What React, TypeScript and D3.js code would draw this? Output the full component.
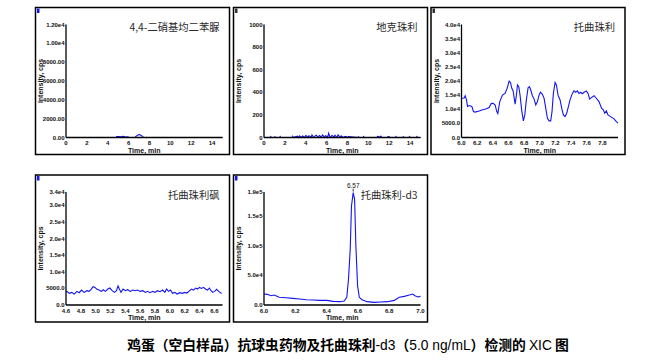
import React from "react";
import * as d3 from "d3";

// --- data ---

// 4,4-二硝基均二苯脲 (0-15 min)
const p1Time = [0, 4.8, 4.85, 5.1, 5.3, 5.5, 5.6, 5.7, 5.95, 6.0, 6.6, 6.7, 6.9, 7.0, 7.1, 7.2, 7.35, 7.4, 15];
const p1Int = [0, 0, 90, 110, 80, 120, 90, 60, 80, 0, 0, 120, 260, 320, 280, 200, 120, 0, 0];

// 地克珠利 (0-15 min), sparse noise
const p2Time = [0, 0.6, 0.65, 0.7, 1.0, 1.05, 1.1, 1.5, 1.55, 1.6, 2.7, 2.75, 2.8, 3.2, 3.3, 3.4, 3.5, 3.6, 3.7, 3.8, 3.9, 4.0, 4.1, 4.2, 4.3, 4.4, 4.5, 4.6, 4.7, 4.8, 4.9, 5.0, 5.1, 5.2, 5.3, 5.4, 5.5, 5.6, 5.7, 5.8, 5.9, 6.0, 6.1, 6.2, 6.3, 6.4, 6.5, 6.6, 6.7, 6.8, 6.9, 7.0, 7.1, 7.2, 7.3, 7.4, 7.5, 7.6, 7.8, 7.9, 8.0, 8.1, 9.0, 9.05, 9.1, 9.5, 9.55, 9.6, 10.8, 10.9, 11.0, 11.1, 11.2, 11.3, 11.8, 11.9, 12.0, 12.1, 12.6, 12.65, 12.7, 13.3, 13.35, 13.4, 13.9, 13.95, 14.0, 14.6, 14.65, 14.7, 15];
const p2Int = [0, 0, 8, 0, 0, 7, 0, 0, 8, 0, 0, 10, 0, 12, 0, 15, 8, 0, 14, 10, 0, 18, 12, 0, 16, 10, 0, 22, 8, 0, 15, 20, 10, 0, 18, 12, 0, 22, 14, 0, 16, 12, 0, 38, 10, 0, 18, 14, 0, 20, 10, 0, 24, 12, 0, 15, 8, 0, 10, 6, 0, 8, 0, 7, 0, 0, 8, 0, 0, 10, 8, 0, 12, 0, 0, 9, 7, 0, 0, 8, 0, 0, 7, 0, 0, 8, 0, 0, 8, 0, 0];

// 托曲珠利 (6.0-8.0 min)
const p3Time = [6.000, 6.034, 6.047, 6.064, 6.077, 6.098, 6.132, 6.153, 6.174, 6.226, 6.268, 6.311, 6.353, 6.379, 6.404, 6.430, 6.451, 6.464, 6.489, 6.523, 6.557, 6.583, 6.609, 6.626, 6.643, 6.660, 6.677, 6.685, 6.702, 6.715, 6.732, 6.749, 6.770, 6.791, 6.809, 6.830, 6.851, 6.868, 6.885, 6.906, 6.928, 6.949, 6.970, 6.991, 7.009, 7.034, 7.055, 7.077, 7.098, 7.119, 7.140, 7.157, 7.174, 7.196, 7.213, 7.234, 7.260, 7.281, 7.302, 7.323, 7.345, 7.366, 7.387, 7.417, 7.438, 7.460, 7.481, 7.502, 7.523, 7.545, 7.566, 7.596, 7.617, 7.638, 7.660, 7.694, 7.723, 7.757, 7.791, 7.813, 7.830, 7.851, 7.872, 7.906, 7.949, 7.979, 8.000];
const p3Int = [13900, 14000, 14800, 13300, 11000, 11300, 11000, 9200, 9000, 9400, 9800, 10100, 10600, 12000, 12100, 11500, 9200, 8500, 12700, 15000, 15600, 17400, 20000, 19500, 17400, 16500, 13300, 11800, 15000, 18600, 18000, 14800, 9400, 5900, 8000, 13600, 17600, 18000, 16800, 14800, 13600, 11500, 12700, 15000, 16000, 15300, 13900, 10300, 6800, 5900, 5900, 9200, 15600, 19500, 18600, 15000, 13300, 10300, 8000, 7400, 8600, 10900, 13300, 15600, 16500, 16000, 16500, 15600, 16000, 15500, 16000, 16500, 15600, 13600, 14100, 14800, 13900, 12700, 10300, 9800, 8600, 9400, 8000, 7400, 6600, 5600, 5100];

// 托曲珠利砜 (4.6-6.71 min)
const p4Time = [4.600, 4.613, 4.644, 4.676, 4.711, 4.747, 4.778, 4.809, 4.844, 4.880, 4.911, 4.942, 4.964, 4.991, 5.013, 5.044, 5.076, 5.102, 5.133, 5.164, 5.191, 5.222, 5.253, 5.280, 5.302, 5.320, 5.342, 5.369, 5.400, 5.431, 5.467, 5.502, 5.533, 5.564, 5.600, 5.636, 5.671, 5.698, 5.733, 5.769, 5.800, 5.831, 5.867, 5.902, 5.933, 5.956, 5.982, 6.009, 6.036, 6.067, 6.098, 6.133, 6.169, 6.200, 6.231, 6.267, 6.293, 6.320, 6.347, 6.373, 6.400, 6.427, 6.453, 6.480, 6.507, 6.533, 6.556, 6.578, 6.604, 6.631, 6.658, 6.684, 6.702];
const p4Int = [3900, 4100, 3500, 3800, 3300, 4100, 3700, 4500, 3800, 4300, 4100, 4800, 5500, 5300, 4800, 4500, 4100, 4600, 4100, 4800, 5100, 4300, 3800, 4300, 5700, 4800, 3800, 4800, 4300, 4600, 4100, 4500, 4300, 4500, 4100, 4300, 3800, 4100, 3700, 4100, 3800, 4300, 4000, 4500, 3800, 4800, 4100, 4500, 3500, 3800, 3300, 3700, 3500, 3800, 3600, 4300, 4800, 4500, 5100, 4800, 5300, 5000, 5300, 4800, 4500, 5100, 4300, 3800, 4100, 4700, 4100, 3700, 3500];

// 托曲珠利-d3 (6.0-7.0 min)
const p5Time = [6.000, 6.022, 6.043, 6.065, 6.097, 6.140, 6.184, 6.227, 6.270, 6.313, 6.356, 6.400, 6.443, 6.486, 6.512, 6.529, 6.540, 6.551, 6.559, 6.570, 6.579, 6.587, 6.598, 6.609, 6.626, 6.659, 6.702, 6.745, 6.788, 6.832, 6.864, 6.896, 6.929, 6.950, 6.965, 6.983, 7.000];
const p5Int = [18400, 17900, 15600, 16800, 12900, 12300, 11200, 10100, 8900, 8400, 7800, 7800, 6100, 5600, 6700, 12900, 43600, 93900, 166500, 188900, 177700, 99500, 32400, 12900, 8900, 5600, 4500, 5000, 5600, 7800, 12900, 14500, 16800, 18400, 15600, 13400, 14500];

// axis ticks
const xTicksWide = [0, 2, 4, 6, 8, 10, 12, 14];
const xLabelsWide = ["0", "2", "4", "6", "8", "10", "12", "14"];
const xTicks3 = [6.0, 6.2, 6.4, 6.6, 6.8, 7.0, 7.2, 7.4, 7.6, 7.8];
const xLabels3 = ["6.0", "6.2", "6.4", "6.6", "6.8", "7.0", "7.2", "7.4", "7.6", "7.8"];
const xTicks4 = [4.6, 4.8, 5.0, 5.2, 5.4, 5.6, 5.8, 6.0, 6.2, 6.4, 6.6];
const xLabels4 = ["4.6", "4.8", "5.0", "5.2", "5.4", "5.6", "5.8", "6.0", "6.2", "6.4", "6.6"];
const xTicks5 = [6.0, 6.2, 6.4, 6.6, 6.8, 7.0];
const xLabels5 = ["6.0", "6.2", "6.4", "6.6", "6.8", "7.0"];

const yTicks1 = [0, 2000, 4000, 6000, 8000, 10000, 12000];
const yLabels1 = ["0.00", "2000.00", "4000.00", "6000.00", "8000.00", "1.00e4", "1.20e4"];
const yTicks2 = [0, 200, 400, 600, 800, 1000];
const yLabels2 = ["0", "200", "400", "600", "800", "1000"];
const yTicks3 = [0, 5000, 10000, 15000, 20000, 25000, 30000, 35000, 40000];
const yLabels3 = ["0.0", "5000.0", "1.0e4", "1.5e4", "2.0e4", "2.5e4", "3.0e4", "3.5e4", "4.0e4"];
const yTicks4 = [0, 5000, 10000, 15000, 20000, 25000, 30000, 34000];
const yLabels4 = ["0.0", "5000.0", "1.0e4", "1.5e4", "2.0e4", "2.5e4", "3.0e4", "3.4e4"];
const yTicks5 = [0, 50000, 100000, 150000, 190000];
const yLabels5 = ["0.0", "5.0e4", "1.0e5", "1.5e5", "1.9e5"];

const titles = ["4,4-二硝基均二苯脲", "地克珠利", "托曲珠利", "托曲珠利砜", "托曲珠利-d3"];

const BLUE = "#1414f0";
const LATIN = "'Liberation Sans', Arial, sans-serif";
const CJK = "'Noto Sans CJK SC', 'Noto Sans', sans-serif";

const panels = [
  { fx: 35.5, fy: 7.5, t: p1Time, v: p1Int, xd: [0, 15], yd: [0, 12000], xt: xTicksWide, xl: xLabelsWide, yt: yTicks1, yl: yLabels1, title: titles[0], mark: BLUE },
  { fx: 233.5, fy: 7.5, t: p2Time, v: p2Int, xd: [0, 15], yd: [0, 1000], xt: xTicksWide, xl: xLabelsWide, yt: yTicks2, yl: yLabels2, title: titles[1], mark: "#333" },
  { fx: 431, fy: 7.5, t: p3Time, v: p3Int, xd: [6.0, 8.0], yd: [0, 40000], xt: xTicks3, xl: xLabels3, yt: yTicks3, yl: yLabels3, title: titles[2], mark: "#333" },
  { fx: 35.5, fy: 175, t: p4Time, v: p4Int, xd: [4.6, 6.71], yd: [0, 34000], xt: xTicks4, xl: xLabels4, yt: yTicks4, yl: yLabels4, title: titles[3], mark: BLUE },
  { fx: 233.5, fy: 175, t: p5Time, v: p5Int, xd: [6.0, 7.0], yd: [0, 190000], xt: xTicks5, xl: xLabels5, yt: yTicks5, yl: yLabels5, title: titles[4], mark: BLUE, peak: "6.57" },
];

const FW = 194;
const FH = 147;

function Panel({ p }: { p: any }) {
  const left = p.fx + 30.5;
  const right = p.fx + 187;
  const top = p.fy + 17;
  const bottom = p.fy + 130;
  const x = d3.scaleLinear().domain(p.xd).range([left, right]);
  const y = d3.scaleLinear().domain(p.yd).range([bottom, top]);
  const pts = p.t.map((t: number, i: number) => [t, p.v[i]] as [number, number]);
  const line = d3.line<[number, number]>().x(d => x(d[0])).y(d => y(d[1]));

  let peakEl = null;
  if (p.peak) {
    const iMax = d3.maxIndex(p.v);
    const px = x(p.t[iMax]);
    const py = y(p.v[iMax]);
    peakEl = (
      <g>
        <line x1={px} x2={px} y1={py - 1} y2={py - 4} stroke="#000" strokeWidth={0.8} />
        <text x={px} y={py - 5} fontSize={6.5} fontFamily={LATIN} textAnchor="middle" fill="#111">{p.peak}</text>
      </g>
    );
  }

  return (
    <g>
      <rect x={p.fx} y={p.fy} width={FW} height={FH} fill="#fff" stroke="#000" strokeWidth={1.5} />
      <rect x={p.fx + 1.5} y={p.fy + 1} width={2.5} height={4.5} fill={p.mark} />
      <path d={line(pts) || ""} fill="none" stroke={BLUE} strokeWidth={1.1} />
      <line x1={left} x2={left} y1={top} y2={bottom} stroke="#000" strokeWidth={1.3} />
      <line x1={left} x2={right} y1={bottom} y2={bottom} stroke="#000" strokeWidth={1.3} />
      {p.yt.map((t: number, i: number) => (
        <text key={"y" + i} x={left - 1.5} y={y(t) + 2} fontSize={6} fontWeight="bold" fontFamily={LATIN} textAnchor="end" fill="#111">{p.yl[i]}</text>
      ))}
      {p.xt.map((t: number, i: number) => (
        <text key={"x" + i} x={x(t)} y={bottom + 7.5} fontSize={6} fontWeight="bold" fontFamily={LATIN} textAnchor="middle" fill="#111">{p.xl[i]}</text>
      ))}
      <text x={(left + right) / 2} y={bottom + 15} fontSize={7} fontWeight="bold" fontFamily={LATIN} textAnchor="middle" fill="#111">Time, min</text>
      <text transform={`translate(${p.fx + 7.5},${(top + bottom) / 2}) rotate(-90)`} fontSize={7} fontWeight="bold" fontFamily={LATIN} textAnchor="middle" fill="#111">Intensity, cps</text>
      <text x={p.fx + FW - 10} y={p.fy + 23.5} fontSize={10.3} fontFamily={CJK} textAnchor="end" fill="#2a2a2a">{p.title}</text>
      {peakEl}
    </g>
  );
}

export default function App() {
  return (
    <svg width={660} height={361} style={{ position: "absolute", left: 0, top: 0, background: "#fff" }}>
      <rect x={0} y={0} width={660} height={361} fill="#fff" />
      {panels.map((p, i) => <Panel key={i} p={p} />)}
      <text x={348} y={350} fontSize={13.8} fontFamily={CJK} textAnchor="middle" fill="#000">
        <tspan fontWeight="bold">鸡蛋（空白样品）抗球虫药物及托曲珠利</tspan>
        <tspan fontFamily={LATIN}>-d3</tspan>
        <tspan fontWeight="bold">（</tspan>
        <tspan fontFamily={LATIN}>5.0 ng/mL</tspan>
        <tspan fontWeight="bold">）检测的 </tspan>
        <tspan fontFamily={LATIN}>XIC</tspan>
        <tspan fontWeight="bold"> 图</tspan>
      </text>
    </svg>
  );
}
